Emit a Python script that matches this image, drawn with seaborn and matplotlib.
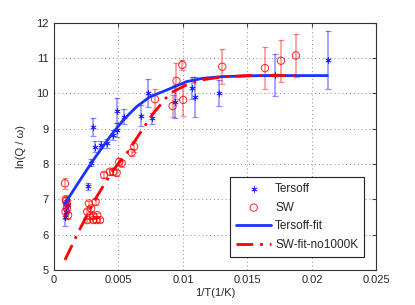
import numpy as np
import pandas as pd
import matplotlib
matplotlib.use("Agg")
import matplotlib.pyplot as plt
import seaborn as sns

# ---- data ----
tersoff_x = [0.00085, 0.00095, 0.0011, 0.00266, 0.00289, 0.00305, 0.00315, 0.00362,
             0.00413, 0.0046, 0.0049, 0.00486, 0.00543, 0.00672, 0.00731, 0.00757,
             0.00938, 0.0107, 0.0109, 0.0128, 0.01713, 0.02122]
tersoff_y = [6.5, 6.65, 6.84, 7.37, 8.03, 9.04, 8.49, 8.54,
             8.58, 8.82, 8.96, 9.51, 9.34, 9.36, 10.0, 9.29,
             9.76, 10.15, 9.89, 10.0, 10.52, 10.94]
tersoff_err = [0.25, 0.2, 0.15, 0.1, 0.1, 0.25, 0.15, 0.1,
               0.12, 0.15, 0.2, 0.35, 0.2, 0.3, 0.4, 0.15,
               0.47, 0.3, 0.57, 0.37, 0.6, 0.83]

sw_x = [0.00085, 0.00092, 0.0010, 0.0010, 0.0009, 0.0011, 0.00095,
        0.00258, 0.00271, 0.00289, 0.00323, 0.00279, 0.00305, 0.00258, 0.00305,
        0.00357, 0.00336, 0.0033,
        0.00388, 0.00434, 0.0046, 0.00486, 0.00506, 0.00525, 0.00602, 0.00622,
        0.00783, 0.0092, 0.0095, 0.00995, 0.01002, 0.01305, 0.01636, 0.0176, 0.01876]
sw_y = [7.45, 7.0, 6.88, 6.75, 6.65, 6.55, 6.95,
        6.65, 6.88, 6.74, 6.93, 6.52, 6.52, 6.41, 6.41,
        6.41, 6.55, 6.41,
        7.69, 7.78, 7.78, 7.75, 8.06, 8.02, 8.32, 8.49,
        9.83, 9.64, 10.35, 10.8, 9.81, 10.75, 10.71, 10.92, 11.07]
sw_err = [0.15, 0.1, 0.1, 0.1, 0.1, 0.1, 0.1,
          0.08, 0.08, 0.08, 0.08, 0.06, 0.06, 0.06, 0.06,
          0.06, 0.06, 0.06,
          0.08, 0.08, 0.08, 0.08, 0.12, 0.1, 0.1, 0.15,
          0.3, 0.3, 0.5, 0.15, 0.45, 0.5, 0.6, 0.6, 0.6]

tfit_x = [0.00085, 0.00202, 0.00305, 0.00434, 0.00537, 0.00641, 0.00744, 0.00874,
          0.01029, 0.0115, 0.013, 0.016, 0.0212]
tfit_y = [6.88, 7.54, 8.11, 8.77, 9.24, 9.62, 9.90, 10.09,
          10.33, 10.42, 10.47, 10.5, 10.5]

swfit_x = [0.00085, 0.002, 0.00331, 0.0046, 0.00564, 0.00667, 0.0077, 0.009,
           0.0103, 0.0115, 0.013, 0.015, 0.0187]
swfit_y = [5.28, 6.15, 7.07, 7.83, 8.3, 8.87, 9.43, 10.0,
           10.24, 10.38, 10.46, 10.5, 10.5]

x_ticks = [0, 0.005, 0.01, 0.015, 0.02, 0.025]
x_ticklabels = ["0", "0.005", "0.01", "0.015", "0.02", "0.025"]
y_ticks = [5, 6, 7, 8, 9, 10, 11, 12]

sns.set_style("white")
plt.rcParams['font.family'] = ['Liberation Sans', 'DejaVu Sans']
plt.rcParams['font.size'] = 8

BLUE = "#0000ff"
RED = "#ff0000"

fig = plt.figure(figsize=(4.15, 3.05), dpi=100)
ax = fig.add_axes([0.130, 0.115, 0.777, 0.811])

ter = pd.DataFrame({"x": tersoff_x, "y": tersoff_y, "e": tersoff_err})
sw = pd.DataFrame({"x": sw_x, "y": sw_y, "e": sw_err})

# error bars
ax.errorbar(ter["x"], ter["y"], yerr=ter["e"], fmt="none", ecolor=BLUE, alpha=0.45,
            elinewidth=1.1, capsize=2.5, capthick=0.9, zorder=2)
ax.errorbar(sw["x"], sw["y"], yerr=sw["e"], fmt="none", ecolor=RED, alpha=0.45,
            elinewidth=1.1, capsize=2.5, capthick=0.9, zorder=2)

# points
sns.scatterplot(data=ter, x="x", y="y", ax=ax, marker=(6, 2, 0), s=16,
                color=BLUE, linewidth=0.6, edgecolor=BLUE, alpha=0.8,
                label="Tersoff", zorder=3)
sns.scatterplot(data=sw, x="x", y="y", ax=ax, marker="o", s=28,
                facecolor="none", edgecolor=RED, linewidth=0.7, alpha=0.85,
                label="SW", zorder=3)

# fit lines
tf = pd.DataFrame({"x": tfit_x, "y": tfit_y})
sf = pd.DataFrame({"x": swfit_x, "y": swfit_y})
sns.lineplot(data=tf, x="x", y="y", ax=ax, color="#1a33ff", linewidth=2.0,
             label="Tersoff-fit", sort=True, zorder=4)
sns.lineplot(data=sf, x="x", y="y", ax=ax, color=RED, linewidth=2.0,
             linestyle=(0, (6, 2.5, 1, 2.5)), label="SW-fit-no1000K", sort=True, zorder=5)

ax.set_xlim(0, 0.025)
ax.set_ylim(5, 12)
ax.set_xticks(x_ticks)
ax.set_xticklabels(x_ticklabels)
ax.set_yticks(y_ticks)
ax.set_xlabel("1/T(1/K)", labelpad=2)
ax.set_ylabel("ln(Q / ω)", labelpad=7)
ax.grid(True, linestyle=(0, (1, 3)), color="#888888", linewidth=0.7)
ax.tick_params(direction="in", length=3, top=True, right=True, labelsize=8, pad=4,
               color="#444444")
for s in ax.spines.values():
    s.set_color("#333333")
    s.set_linewidth(0.8)

leg = ax.legend(loc="lower right", bbox_to_anchor=(0.98, 0.03), frameon=True,
                fancybox=False, edgecolor="#222222", framealpha=1, fontsize=8.5,
                handlelength=3.0, borderpad=0.5, labelspacing=0.55, handletextpad=0.3)
leg.get_frame().set_linewidth(0.8)

fig.savefig("out.png", dpi=100)
